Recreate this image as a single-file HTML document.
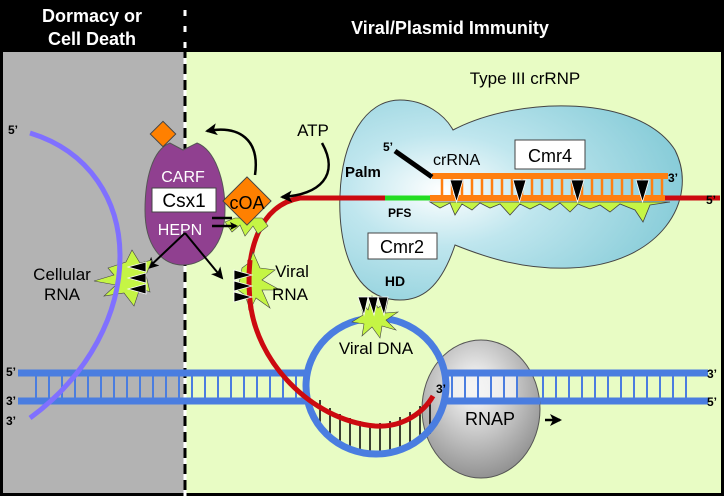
<!DOCTYPE html>
<html><head><meta charset="utf-8"><style>
html,body{margin:0;padding:0;background:#fff}
svg{display:block}
text{font-family:"Liberation Sans",Arial,sans-serif}
</style></head><body>
<svg width="724" height="496" viewBox="0 0 724 496" xmlns="http://www.w3.org/2000/svg">
<defs>
<radialGradient id="blob" cx="0.3" cy="0.45" r="0.8"><stop offset="0" stop-color="#ffffff"/><stop offset="0.35" stop-color="#bfe6ee"/><stop offset="1" stop-color="#7cc7d4"/></radialGradient>
<radialGradient id="rnap" cx="0.45" cy="0.35" r="0.7"><stop offset="0" stop-color="#ffffff"/><stop offset="1" stop-color="#8a8a8a"/></radialGradient>
<marker id="ah" markerWidth="8" markerHeight="8" refX="6" refY="4" orient="auto" markerUnits="userSpaceOnUse"><path d="M0,0 L8,4 L0,8 L2,4 Z" fill="#000"/></marker>
<marker id="ahs" markerWidth="12" markerHeight="12" refX="10" refY="6" orient="auto" markerUnits="userSpaceOnUse"><path d="M0,0 L12,6 L0,12 L3,6 Z" fill="#000"/></marker>
</defs>
<rect x="0" y="0" width="724" height="496" fill="#000"/>
<rect x="3" y="52" width="182" height="441" fill="#b3b3b3"/>
<rect x="185" y="52" width="536" height="441" fill="#e8fcc4"/>
<line x1="185" y1="0" x2="185" y2="496" stroke="#fff" stroke-width="3"/>
<line x1="185" y1="0" x2="185" y2="496" stroke="#000" stroke-width="3" stroke-dasharray="10,6"/>
<text x="92" y="22" font-size="18" font-weight="bold" fill="#fff" text-anchor="middle">Dormacy or</text>
<text x="92" y="45" font-size="18" font-weight="bold" fill="#fff" text-anchor="middle">Cell Death</text>
<text x="450" y="34" font-size="18" font-weight="bold" fill="#fff" text-anchor="middle">Viral/Plasmid Immunity</text>

<!-- DNA -->
<g stroke="#4a7de0" stroke-width="2">
<path d="M36,373V401M49,373V401M62,373V401M75,373V401M88,373V401M101,373V401M114,373V401M127,373V401M140,373V401M153,373V401M166,373V401M179,373V401M192,373V401M205,373V401M218,373V401M231,373V401M244,373V401M257,373V401M270,373V401M283,373V401M296,373V401"/>
<path d="M452,373V401M465,373V401M478,373V401M491,373V401M504,373V401M517,373V401M530,373V401M543,373V401M556,373V401M569,373V401M582,373V401M595,373V401M608,373V401M621,373V401M634,373V401M647,373V401M660,373V401M673,373V401M686,373V401"/>
</g>
<g stroke="#4a7de0" stroke-width="7" fill="none">
<path d="M18,373H308M444,373H708"/>
<path d="M18,401H308M444,401H708"/>
</g>
<!-- RNAP -->
<ellipse cx="481" cy="409" rx="59" ry="69" fill="url(#rnap)" stroke="#555" stroke-width="1"/>
<rect x="446" y="375" width="70" height="25" fill="#f2f2f2" opacity="0.8"/>
<g stroke="#4a7de0" stroke-width="2"><path d="M452,375V399M465,375V399M478,375V399M491,375V399M504,375V399M517,375V399"/></g>
<g stroke="#4a7de0" stroke-width="7" fill="none"><path d="M444,373H540M444,401H540"/></g>
<!-- bubble rungs -->
<g stroke="#000" stroke-width="1.5"><path d="M320,400V427M330,408V437M340,414V443M350,418V449M360,421V452M370,423V454M380,423V454M390,421V452M400,417V449M410,412V446M420,406V441M430,399V434"/></g>
<ellipse cx="376" cy="386" rx="70" ry="68" fill="none" stroke="#4a7de0" stroke-width="7"/>
<!-- purple cellular RNA -->
<text x="8" y="134" font-size="12" font-weight="bold">5’</text>
<text x="6" y="376" font-size="12" font-weight="bold">5’</text>
<text x="6" y="405" font-size="12" font-weight="bold">3’</text>
<text x="6" y="425" font-size="12" font-weight="bold">3’</text>
<text x="707" y="378" font-size="12" font-weight="bold">3’</text>
<text x="707" y="406" font-size="12" font-weight="bold">5’</text>
<!-- crRNP blob -->
<path d="M453,130 C520,95 640,95 675,150 C700,200 660,265 570,268 C520,270 480,255 455,245 C440,290 420,300 400,300 C350,300 338,240 340,195 C342,140 365,100 400,100 C425,100 445,115 453,130 Z" fill="url(#blob)" stroke="#444" stroke-width="1"/>
<text x="525" y="84" font-size="17" text-anchor="middle">Type III crRNP</text>
<!-- red target RNA -->
<path d="M720,198 H300 C260,205 245,250 250,300 C255,360 310,420 375,426 C405,428 425,410 433,396" fill="none" stroke="#cc0a10" stroke-width="5"/>
<path d="M385,198H430" stroke="#22dd22" stroke-width="5"/>
<text x="706" y="204" font-size="12" font-weight="bold">5’</text>
<text x="436" y="393" font-size="12" font-weight="bold">3’</text>
<!-- green jagged under crRNA -->
<path d="M430,202 L440,208 450,203 455,215 462,204 472,210 480,203 490,208 500,204 510,215 520,204 530,209 540,204 550,210 560,203 570,212 578,204 590,209 600,205 610,212 620,204 635,210 643,222 650,205 670,202 Z" fill="#c5f545" stroke="#444" stroke-width="0.8"/>
<!-- orange crRNA -->
<g stroke="#ff7f10" stroke-width="2.5"><path d="M442,176V198M452,176V198M462,176V198M472,176V198M482,176V198M492,176V198M502,176V198M512,176V198M522,176V198M532,176V198M542,176V198M552,176V198M562,176V198M572,176V198M582,176V198M592,176V198M602,176V198M612,176V198M622,176V198M632,176V198M642,176V198M652,176V198M662,176V198"/></g>
<path d="M432,176H668M430,198H665" stroke="#ff7f10" stroke-width="6"/>
<g fill="#000" stroke="#fff" stroke-width="0.8"><path d="M450,180h13l-6.5,22z M513,180h13l-6.5,22z M571,180h13l-6.5,22z M636,180h13l-6.5,22z"/></g>
<line x1="395" y1="151" x2="432" y2="177" stroke="#000" stroke-width="5"/>
<text x="383" y="151" font-size="12" font-weight="bold">5’</text>
<text x="345" y="177" font-size="15" font-weight="bold">Palm</text>
<text x="433" y="165" font-size="16">crRNA</text>
<rect x="515" y="140" width="70" height="29" fill="#fff" stroke="#444"/>
<text x="550" y="162" font-size="18" text-anchor="middle">Cmr4</text>
<text x="668" y="182" font-size="12" font-weight="bold">3’</text>
<text x="388" y="217" font-size="12" font-weight="bold">PFS</text>
<rect x="368" y="233" width="69" height="26" fill="#fff" stroke="#444"/>
<text x="402" y="253" font-size="18" text-anchor="middle">Cmr2</text>
<text x="395" y="286" font-size="14" font-weight="bold" text-anchor="middle">HD</text>
<!-- viral DNA star -->
<path d="M360,300 L368,310 372,296 378,308 388,300 385,313 398,312 386,320 396,330 382,326 380,338 372,327 362,336 364,324 352,322 363,315 Z" fill="#c5f545" stroke="#444" stroke-width="0.6"/>
<g fill="#000" stroke="#fff" stroke-width="0.8"><path d="M358,297h10l-4,18z M368,297h10l-4,18z M378,297h10l-4,18z"/></g>
<text x="376" y="354" font-size="17" text-anchor="middle">Viral DNA</text>
<text x="490" y="425" font-size="18" text-anchor="middle">RNAP</text>
<line x1="545" y1="420" x2="560" y2="420" stroke="#000" stroke-width="2.5" marker-end="url(#ahs)"/>
<!-- Csx1 -->
<path d="M183,150 L197,143 C215,150 225,180 225,210 C225,245 205,265 183,265 C161,265 145,245 145,210 C145,180 152,150 170,143 Z" fill="#904090" stroke="#555"/>
<rect x="152" y="188" width="64" height="24" fill="#fff" stroke="#444"/>
<text x="184" y="207" font-size="19" text-anchor="middle">Csx1</text>
<text x="183" y="182" font-size="16" fill="#fff" text-anchor="middle">CARF</text>
<text x="180" y="235" font-size="16" fill="#fff" text-anchor="middle">HEPN</text>
<rect x="154" y="125" width="18" height="18" fill="#ff8000" stroke="#444" transform="rotate(45 163 134)"/>
<!-- cOA -->
<path d="M225,222 L232,232 240,225 245,236 253,226 258,234 268,226 262,218 235,218 Z" fill="#c5f545" stroke="#444" stroke-width="0.6"/>
<rect x="230" y="184" width="34" height="34" fill="#ff8000" stroke="#444" transform="rotate(45 247 201)"/>
<text x="247" y="209" font-size="18" text-anchor="middle">cOA</text>
<text x="313" y="136" font-size="17" text-anchor="middle">ATP</text>
<path d="M255,175 C260,140 240,125 207,131" fill="none" stroke="#000" stroke-width="2.5" marker-end="url(#ahs)"/>
<path d="M322,143 C340,175 320,195 282,197" fill="none" stroke="#000" stroke-width="2.5" marker-end="url(#ahs)"/>
<path d="M212,218 H232" stroke="#000" stroke-width="2.5"/>
<path d="M212,226 H236" stroke="#000" stroke-width="2.5" marker-end="url(#ah)"/>
<path d="M185,233 L148,268" stroke="#000" stroke-width="2" marker-end="url(#ahs)"/>
<path d="M185,233 L222,278" stroke="#000" stroke-width="2" marker-end="url(#ahs)"/>
<!-- cellular RNA star -->
<path d="M108,268 L126,262 132,250 140,263 152,260 146,275 150,292 140,288 134,306 124,293 104,296 116,285 94,281 114,275 Z" fill="#c5f545" stroke="#444" stroke-width="0.6"/>
<path d="M30,133 C150,170 150,330 30,418" fill="none" stroke="#8070ff" stroke-width="5"/>
<g fill="#000" stroke="#fff" stroke-width="0.8"><path d="M146,262v10l-18,-5z M146,273v10l-18,-5z M146,284v10l-18,-5z"/></g>
<text x="62" y="280" font-size="17" text-anchor="middle">Cellular</text>
<text x="62" y="300" font-size="17" text-anchor="middle">RNA</text>
<!-- viral RNA star -->
<path d="M242,268 L250,262 253,252 260,268 275,270 262,280 280,290 262,290 270,308 256,298 250,310 245,295 238,290 Z" fill="#c5f545" stroke="#444" stroke-width="0.6"/>
<path d="M250,260 C248,280 249,295 251,310" fill="none" stroke="#cc0a10" stroke-width="5"/>
<g fill="#000" stroke="#fff" stroke-width="0.8"><path d="M234,270v10l18,-5z M234,281v10l18,-5z M234,292v10l18,-5z"/></g>
<text x="292" y="277" font-size="17" text-anchor="middle">Viral</text>
<text x="290" y="300" font-size="17" text-anchor="middle">RNA</text>
</svg>
</body></html>
